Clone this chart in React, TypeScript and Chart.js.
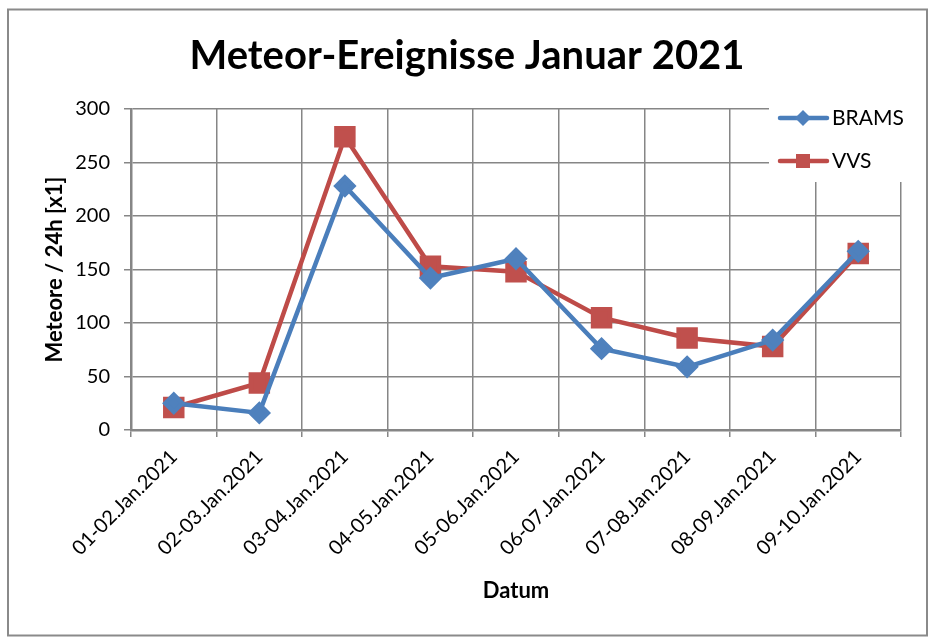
import React, { useEffect, useRef } from "react";
import { Chart, registerables } from "chart.js";

Chart.register(...registerables);

// data
const categories = [
  "01-02.Jan.2021",
  "02-03.Jan.2021",
  "03-04.Jan.2021",
  "04-05.Jan.2021",
  "05-06.Jan.2021",
  "06-07.Jan.2021",
  "07-08.Jan.2021",
  "08-09.Jan.2021",
  "09-10.Jan.2021",
];
const bramsValues = [25, 16, 228, 142, 160, 76, 59, 84, 167];
const vvsValues = [21, 44, 274, 153, 148, 105, 86, 78, 165];
const yMin = 0;
const yMax = 300;
const yStep = 50;

const FONT = "Lato, 'Open Sans', sans-serif";
const GRID = "#868686";

// grey frame around the whole chart
const framePlugin = {
  id: "frame",
  beforeDraw(chart: any) {
    const { ctx, width, height } = chart;
    ctx.save();
    ctx.fillStyle = "#ffffff";
    ctx.fillRect(0, 0, width, height);
    ctx.strokeStyle = "#8a8a8a";
    ctx.lineWidth = 2;
    ctx.strokeRect(8, 9.5, 919, 626);
    ctx.restore();
  },
};

// Excel style legend sitting inside the plot, top right, on a white box
const insideLegend = {
  id: "insideLegend",
  afterDraw(chart: any) {
    const { ctx } = chart;
    ctx.save();
    ctx.fillStyle = "#ffffff";
    ctx.fillRect(769, 98, 140, 84);
    chart.data.datasets.forEach((ds: any, i: number) => {
      const y = 118 + i * 43;
      ctx.strokeStyle = ds.borderColor;
      ctx.lineWidth = 4.5;
      ctx.lineCap = "round";
      ctx.beginPath();
      ctx.moveTo(780, y);
      ctx.lineTo(827, y);
      ctx.stroke();
      ctx.fillStyle = ds.pointBackgroundColor;
      ctx.beginPath();
      if (ds.pointStyle === "rect") {
        ctx.rect(803 - 7, y - 7, 14, 14);
      } else {
        ctx.moveTo(803, y - 8);
        ctx.lineTo(811, y);
        ctx.lineTo(803, y + 8);
        ctx.lineTo(795, y);
        ctx.closePath();
      }
      ctx.fill();
      ctx.fillStyle = "#000000";
      ctx.font = `21px ${FONT}`;
      ctx.textBaseline = "middle";
      ctx.textAlign = "left";
      ctx.fillText(ds.label, 832, y);
    });
    ctx.restore();
  },
};

const App = () => {
  const canvasRef = useRef<HTMLCanvasElement>(null);

  useEffect(() => {
    document.body.style.margin = "0";
    if (!canvasRef.current) return;

    const chart = new Chart(canvasRef.current, {
      type: "line",
      data: {
        labels: categories,
        datasets: [
          {
            label: "BRAMS",
            data: bramsValues,
            borderColor: "#4A7EBB",
            backgroundColor: "#4F81BD",
            pointBackgroundColor: "#4F81BD",
            pointBorderColor: "#4F81BD",
            pointStyle: "rectRot",
            pointRadius: 8.5,
            borderWidth: 4.5,
            tension: 0,
          },
          {
            label: "VVS",
            data: vvsValues,
            borderColor: "#BE4B48",
            backgroundColor: "#C0504D",
            pointBackgroundColor: "#C0504D",
            pointBorderColor: "#C0504D",
            pointStyle: "rect",
            pointRadius: 12,
            borderWidth: 4.5,
            tension: 0,
          },
        ],
      },
      options: {
        animation: false,
        responsive: true,
        maintainAspectRatio: false,
        // equal left/right padding keeps the title centred on the page
        layout: { padding: { left: 33, right: 33, top: 0, bottom: 0 } },
        plugins: {
          legend: { display: false },
          tooltip: { enabled: false },
          title: {
            display: true,
            text: "Meteor-Ereignisse Januar 2021",
            color: "#000000",
            font: { family: FONT, size: 40, weight: "bold", lineHeight: 1.2 },
            padding: { top: 32, bottom: 29 },
          },
        },
        scales: {
          x: {
            offset: true,
            grid: { offset: true, color: GRID, lineWidth: 1.5, tickLength: 7 },
            border: { color: GRID, width: 2.5 },
            ticks: {
              color: "#000000",
              font: { family: FONT, size: 20 },
              maxRotation: 45,
              minRotation: 45,
              padding: 8,
            },
            title: {
              display: true,
              text: "Datum",
              color: "#000000",
              font: { family: FONT, size: 22, weight: "bold", lineHeight: 1.2 },
              padding: { top: 0, bottom: 37 },
            },
            afterFit(scale: any) {
              scale.height = 211;
            },
          },
          y: {
            min: yMin,
            max: yMax,
            ticks: {
              stepSize: yStep,
              color: "#000000",
              font: { family: FONT, size: 20 },
              padding: 14,
            },
            grid: { color: GRID, lineWidth: 1.5, tickLength: 7 },
            border: { color: GRID, width: 2.5 },
            title: {
              display: true,
              text: "Meteore / 24h [x1]",
              color: "#000000",
              font: { family: FONT, size: 22, weight: "bold", lineHeight: 1.2 },
              padding: { top: 9, bottom: 0 },
            },
            afterFit(scale: any) {
              scale.width = 98;
            },
          },
        },
      },
      plugins: [framePlugin, insideLegend],
    });

    return () => {
      chart.destroy();
    };
  }, []);

  return (
    <div style={{ width: "934px", height: "641px", position: "relative" }}>
      <canvas ref={canvasRef}></canvas>
    </div>
  );
};

export default App;
